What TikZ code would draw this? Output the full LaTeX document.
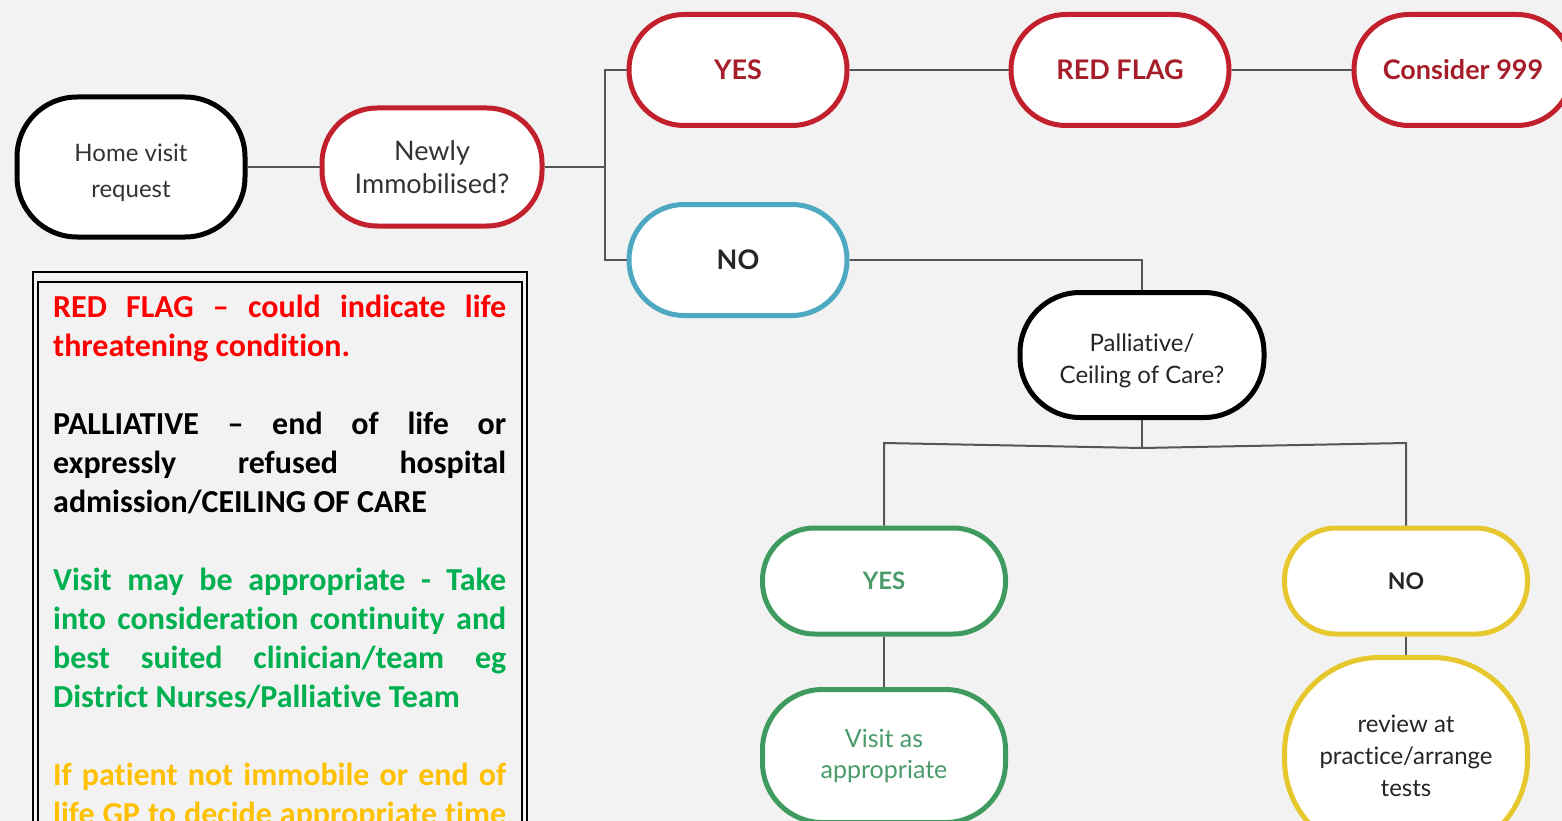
\documentclass[tikz,border=0pt]{standalone}
\usepackage{fontspec}
\newfontfamily\lato[Ligatures={NoCommon}]{Lato}
\newfontfamily\carlito[Ligatures={NoCommon}]{Carlito}

\definecolor{pagegrey}{HTML}{F2F2F2}
\definecolor{flagred}{HTML}{C1202C}
\definecolor{flagtext}{HTML}{A61E2A}
\definecolor{noblue}{HTML}{4DA8C2}
\definecolor{okgreen}{HTML}{3E9A5E}
\definecolor{oktext}{HTML}{4A9B6C}
\definecolor{waityellow}{HTML}{E6C82E}
\definecolor{linkgrey}{HTML}{555555}
\definecolor{nodetext}{HTML}{333333}
\definecolor{wordred}{HTML}{FF0000}
\definecolor{wordgreen}{HTML}{00B050}
\definecolor{wordorange}{HTML}{FFC000}

\tikzset{
  pill/.style={draw, rectangle, fill=white, line width=5pt, rounded corners=#1,
    align=center, inner sep=0pt, text=nodetext,
    font=\lato\fontsize{24}{32}\selectfont},
  pill/.default=55pt,
  link/.style={draw=linkgrey, line width=2pt},
}

\begin{document}
\begin{tikzpicture}[x=1pt,y=-1pt]
\useasboundingbox (0,0) rectangle (1562,821);
\clip (0,0) rectangle (1562,821);
\fill[pagegrey] (0,0) rectangle (1562,821);

% key box
\draw[line width=2pt] (33,272) rectangle (527,840);
\draw[line width=2pt] (37.5,282) rectangle (522,840);
\node (legend) [anchor=north west, text width=453pt, inner sep=0pt, align=justify,
  font=\carlito\bfseries\fontsize{32}{39}\selectfont] at (53,295)
  {\parindent=0pt\parskip=39pt\hyphenpenalty=10000\rightskip=0pt\leftskip=0pt
   \leavevmode\color{wordred}RED FLAG – could indicate life\linebreak threatening condition.\par
   \leavevmode\color{black}PALLIATIVE – end of life or\linebreak expressly refused hospital\linebreak admission/CEILING OF CARE\par
   \leavevmode\color{wordgreen}Visit may be appropriate - Take\linebreak into consideration continuity and\linebreak best suited clinician/team eg\linebreak District Nurses/Palliative Team\par
   \parfillskip=0pt\leavevmode\color{wordorange}If patient not immobile or end of\linebreak life GP to decide appropriate time\par};

% flow
\node[pill=60pt, draw=black, minimum width=228pt, minimum height=140pt, text height=66pt,
  font=\lato\fontsize{24}{36}\selectfont] (home) at (131,167) {Home visit\\request};
\node[pill, draw=flagred, minimum width=220pt, minimum height=118pt,
  font=\lato\fontsize{27}{33}\selectfont] (newly) at (432,167) {Newly\\Immobilised?};
\node[pill, draw=flagred, text=flagtext, minimum width=218pt, minimum height=111pt,
  font=\lato\bfseries\fontsize{27}{32}\selectfont] (yes) at (738,70) {YES};
\node[pill, draw=flagred, text=flagtext, minimum width=218pt, minimum height=111pt,
  font=\lato\bfseries\fontsize{27}{32}\selectfont] (redflag) at (1120,70) {RED FLAG};
\node[pill, draw=flagred, text=flagtext, minimum width=218pt, minimum height=111pt,
  font=\lato\bfseries\fontsize{27}{32}\selectfont] (call) at (1463,70) {Consider 999};
\node[pill, draw=noblue, text=black!85, minimum width=218pt, minimum height=111pt,
  font=\lato\bfseries\fontsize{27}{32}\selectfont] (no) at (738,260) {NO};
\node[pill=60pt, draw=black, text=black!85, minimum width=244pt, minimum height=125pt,
  text height=62pt] (pal) at (1142,355) {Palliative/\\Ceiling of Care?};
\node[pill=52pt, draw=okgreen, text=oktext, minimum width=243pt, minimum height=106pt,
  font=\lato\bfseries\fontsize{24}{32}\selectfont] (pyes) at (884,581) {YES};
\node[pill=52pt, draw=waityellow, text=black!85, minimum width=243pt, minimum height=106pt,
  font=\lato\bfseries\fontsize{23}{32}\selectfont] (pno) at (1406,581) {NO};
\node[pill=60pt, draw=okgreen, text=oktext, minimum width=243pt, minimum height=133pt,
  font=\lato\fontsize{25}{31}\selectfont] (visit) at (884,756) {Visit as\\appropriate};
\node[pill=95pt, draw=waityellow, text=black!85, minimum width=243pt, minimum height=197pt]
  (review) at (1406,756) {review at\\practice/arrange\\tests};

% connectors
\coordinate (split) at (605,167);
\coordinate (fork) at (1142,448);
\coordinate (forkl) at (884,443);
\coordinate (forkr) at (1406,443);
\draw[link] (home) -- (newly);
\draw[link] (newly) -- (split);
\draw[link] (split) |- (yes);
\draw[link] (split) |- (no);
\draw[link] (yes) -- (redflag);
\draw[link] (redflag) -- (call);
\draw[link] (no) -| (pal);
\draw[link] (pal) -- (fork);
\draw[link] (fork) -- (forkl) -- (pyes);
\draw[link] (fork) -- (forkr) -- (pno);
\draw[link] (pyes) -- (visit);
\draw[link] (pno) -- (review);
\end{tikzpicture}
\end{document}
